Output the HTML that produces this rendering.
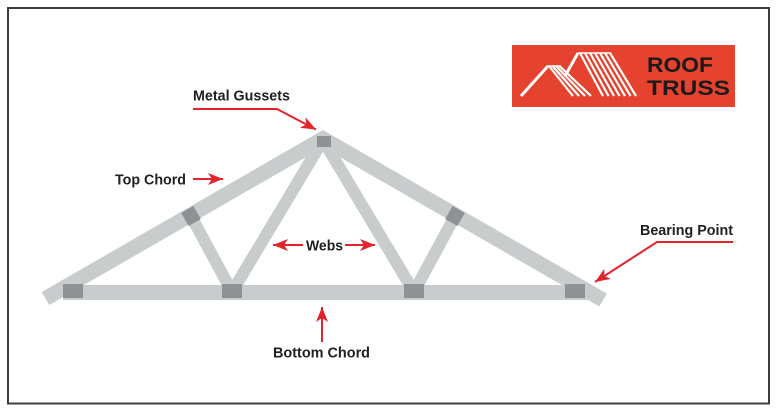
<!DOCTYPE html>
<html><head><meta charset="utf-8"><style>
html,body{margin:0;padding:0;background:#fff;}
svg{display:block;}
text{font-family:"Liberation Sans",sans-serif;}
</style></head><body>
<svg width="782" height="418" viewBox="0 0 782 418" xmlns="http://www.w3.org/2000/svg">
<defs>
<marker id="ah" markerUnits="userSpaceOnUse" markerWidth="16" markerHeight="14" refX="15" refY="6" orient="auto">
<path d="M0,0 L15,6 L0,12 L4,6 Z" fill="#e3232c"/>
</marker>
</defs>
<rect x="0" y="0" width="782" height="418" fill="#fff"/>
<rect x="8" y="8" width="761" height="395.5" fill="none" stroke="#3c3c3c" stroke-width="2"/>

<!-- logo -->
<rect x="512" y="45" width="223" height="62" fill="#e5432f"/>
<g stroke="#fff" fill="none" stroke-linecap="butt">
<line x1="521" y1="96" x2="548" y2="66" stroke-width="3"/>
<line x1="548" y1="66" x2="561" y2="66" stroke-width="1.5"/>
<line x1="549" y1="66" x2="573" y2="96" stroke-width="2.2"/>
<line x1="552.5" y1="66" x2="579" y2="96" stroke-width="2.2"/>
<line x1="556" y1="66" x2="585" y2="96" stroke-width="2.2"/>
<line x1="559.5" y1="66" x2="591" y2="96" stroke-width="2.2"/>
<line x1="565" y1="76" x2="578" y2="53" stroke-width="3"/>
<line x1="578" y1="53" x2="611" y2="53" stroke-width="1.5"/>
<line x1="580" y1="53" x2="603" y2="96" stroke-width="2.2"/>
<line x1="585" y1="53" x2="608.5" y2="96" stroke-width="2.2"/>
<line x1="590" y1="53" x2="614" y2="96" stroke-width="2.2"/>
<line x1="595" y1="53" x2="619.5" y2="96" stroke-width="2.2"/>
<line x1="600" y1="53" x2="625" y2="96" stroke-width="2.2"/>
<line x1="605" y1="53" x2="630.5" y2="96" stroke-width="2.2"/>
<line x1="610" y1="53" x2="636" y2="96" stroke-width="2.2"/>
</g>
<text x="647" y="72" font-size="21" font-weight="bold" fill="#1a1a1a" textLength="66" lengthAdjust="spacingAndGlyphs">ROOF</text>
<text x="647" y="95" font-size="21" font-weight="bold" fill="#1a1a1a" textLength="83" lengthAdjust="spacingAndGlyphs">TRUSS</text>

<!-- truss -->
<g stroke="#c9cccc" fill="none" stroke-linecap="butt">
<line x1="191" y1="216" x2="232" y2="292" stroke-width="12"/>
<line x1="232" y1="292" x2="323" y2="140" stroke-width="12"/>
<line x1="323" y1="140" x2="414" y2="292" stroke-width="12"/>
<line x1="414" y1="292" x2="455" y2="216" stroke-width="12"/>
<polyline points="45.5,298.5 323,138.7 603,300" stroke-width="15" stroke-linejoin="miter" stroke-miterlimit="10"/>
</g>
<rect x="63" y="285" width="526" height="15" fill="#c9cccc"/>
<g fill="#8f9294">
<rect x="63" y="284" width="20" height="14"/>
<rect x="222" y="284" width="20" height="14"/>
<rect x="404" y="284" width="20" height="14"/>
<rect x="565" y="284" width="20" height="14"/>
<rect x="317" y="136" width="14" height="11"/>
<rect x="-7" y="-7.5" width="14" height="15" transform="translate(191,216) rotate(-30)"/>
<rect x="-7" y="-7.5" width="14" height="15" transform="translate(455,216) rotate(30)"/>
</g>

<!-- arrows -->
<g stroke="#e3232c" stroke-width="2" fill="none">
<path d="M193,109 H277 L316,129.5" marker-end="url(#ah)"/>
<line x1="193" y1="179" x2="223" y2="179" marker-end="url(#ah)"/>
<line x1="303" y1="245" x2="273" y2="245" marker-end="url(#ah)"/>
<line x1="345" y1="245" x2="375" y2="245" marker-end="url(#ah)"/>
<line x1="322" y1="342" x2="322" y2="307" marker-end="url(#ah)"/>
<path d="M733,242 H657 L595,282" marker-end="url(#ah)"/>
</g>

<!-- labels -->
<g fill="#1f1f1f" font-size="14.5" font-weight="bold">
<text x="193" y="100.5" textLength="97" lengthAdjust="spacingAndGlyphs">Metal Gussets</text>
<text x="115" y="184.3" textLength="71" lengthAdjust="spacingAndGlyphs">Top Chord</text>
<text x="306" y="250.5" textLength="37" lengthAdjust="spacingAndGlyphs">Webs</text>
<text x="273" y="357.3" textLength="97" lengthAdjust="spacingAndGlyphs">Bottom Chord</text>
<text x="640" y="235" textLength="93" lengthAdjust="spacingAndGlyphs">Bearing Point</text>
</g>
</svg>
</body></html>
